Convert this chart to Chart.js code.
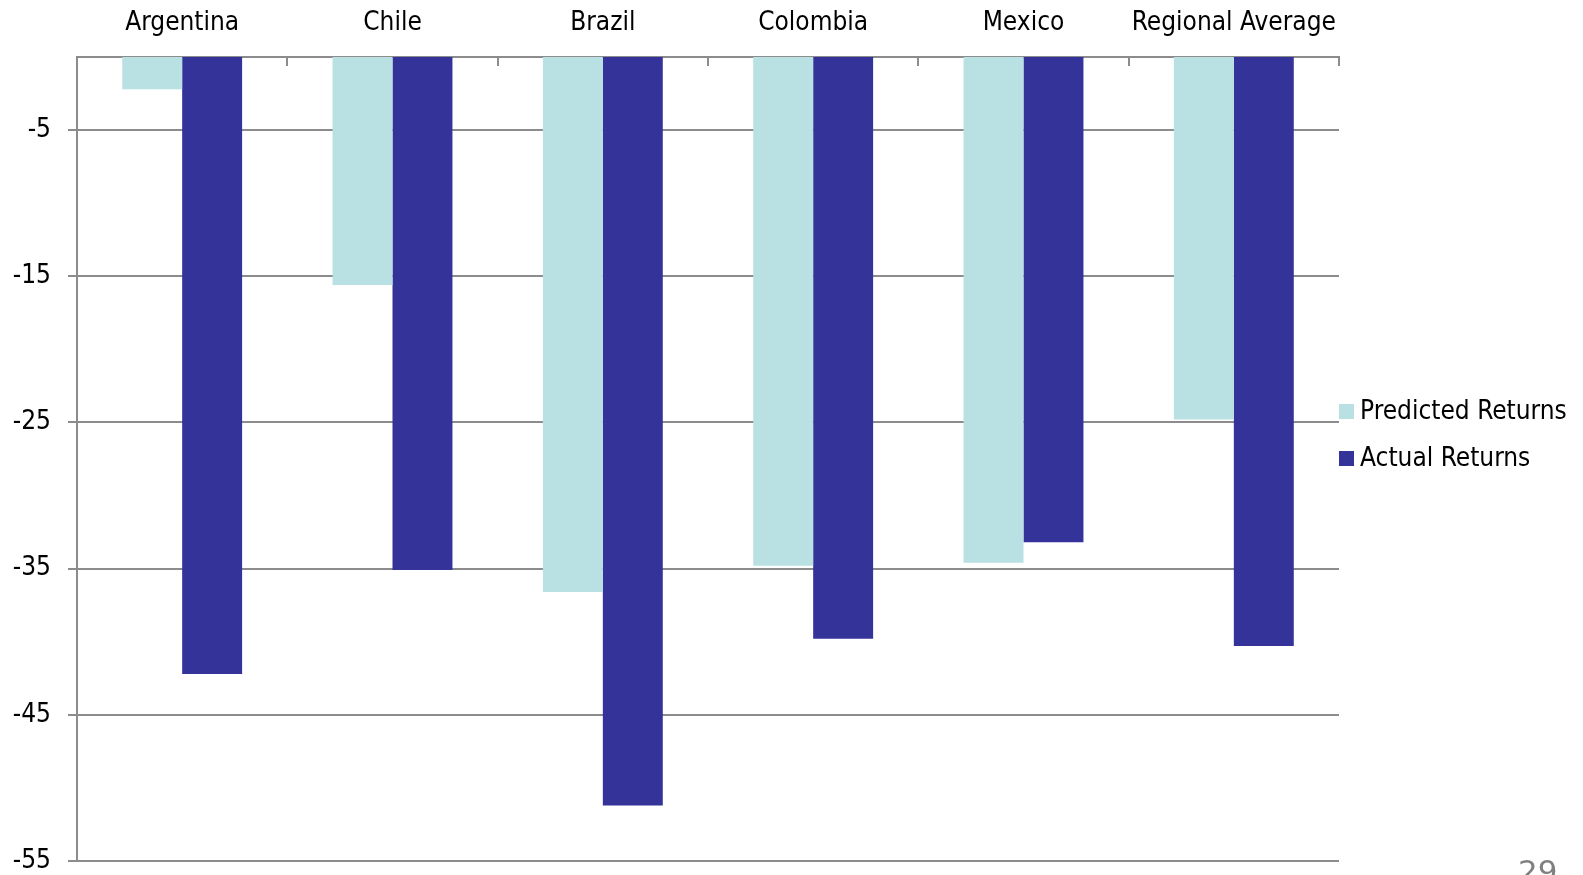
<!DOCTYPE html>
<html>
<head>
<meta charset="utf-8">
<script src="https://cdn.jsdelivr.net/npm/chart.js@4/dist/chart.umd.min.js"></script>
<style>
  html, body { margin: 0; padding: 0; background: #fff; overflow: hidden; }
  #wrap { position: relative; width: 1583px; height: 875px; }
  #pageNo {
    position: absolute; left: 1518px; top: 856px;
    font: 31px "DejaVu Sans", sans-serif; line-height: 1; color: #808080;
  }
</style>
</head>
<body>
<div id="wrap">
  <canvas id="returnsChart" width="1583" height="875"></canvas>
  <div id="pageNo">29</div>
</div>
<script>
const categories = ["Argentina", "Chile", "Brazil", "Colombia", "Mexico", "Regional Average"];
const predictedReturns = [-2.2, -15.6, -36.6, -34.8, -34.6, -24.8];
const actualReturns = [-42.2, -35.1, -51.2, -39.8, -33.2, -40.3];
const yTickValues = [-5, -15, -25, -35, -45, -55];

const axisGrey = "#8c8c8c";
const fontFamily = "'DejaVu Sans Condensed', 'DejaVu Sans', sans-serif";
const labelFont = { family: fontFamily, size: 26 };

// short tick marks pointing down from the top axis at each category boundary
const categoryTicks = {
  id: "categoryTicks",
  afterDraw(chart) {
    const { ctx, chartArea } = chart;
    const x = chart.scales.x;
    const step = x.getPixelForValue(1) - x.getPixelForValue(0);
    ctx.save();
    ctx.strokeStyle = axisGrey;
    ctx.lineWidth = 2;
    for (let i = 0; i <= categories.length; i++) {
      const px = Math.round(x.getPixelForValue(0) - step / 2 + i * step);
      ctx.beginPath();
      ctx.moveTo(px, chartArea.top);
      ctx.lineTo(px, chartArea.top + 9);
      ctx.stroke();
    }
    ctx.restore();
  },
};

// legend to the right of the plot, boxes flush with the plot edge
const sideLegend = {
  id: "sideLegend",
  afterDraw(chart) {
    const { ctx, chartArea } = chart;
    ctx.save();
    ctx.font = `26px ${fontFamily}`;
    ctx.textBaseline = "middle";
    chart.data.datasets.forEach((ds, i) => {
      const top = 404 + i * 47;
      ctx.fillStyle = ds.backgroundColor;
      ctx.fillRect(chartArea.right, top, 15, 15);
      ctx.fillStyle = "#000";
      ctx.fillText(ds.label, chartArea.right + 21, top + 8);
    });
    ctx.restore();
  },
};

new Chart(document.getElementById("returnsChart"), {
  type: "bar",
  data: {
    labels: categories,
    datasets: [
      {
        label: "Predicted Returns",
        data: predictedReturns,
        backgroundColor: "#b9e0e3",
        categoryPercentage: 0.57,
        barPercentage: 1,
      },
      {
        label: "Actual Returns",
        data: actualReturns,
        backgroundColor: "#333399",
        categoryPercentage: 0.57,
        barPercentage: 1,
      },
    ],
  },
  options: {
    responsive: false,
    animation: false,
    layout: { padding: { left: 0, top: 0, right: 244, bottom: 14 } },
    plugins: {
      legend: { display: false },
      tooltip: { enabled: false },
    },
    scales: {
      x: {
        position: "top",
        grid: { display: false, drawTicks: false },
        border: { display: true, color: axisGrey, width: 2 },
        ticks: { color: "#000", font: labelFont, padding: 18, maxRotation: 0 },
        afterFit: (scale) => { scale.height = 57; },
      },
      y: {
        min: -55,
        max: 0,
        afterBuildTicks: (scale) => {
          scale.ticks = yTickValues.map((v) => ({ value: v }));
        },
        afterFit: (scale) => {
          scale.width = 77;
          // let the bottom label run past the plot edge
          scale.paddingTop = 0;
          scale.paddingBottom = 0;
        },
        grid: { color: axisGrey, lineWidth: 2, tickLength: 9, drawTicks: true },
        border: { display: true, color: axisGrey, width: 2 },
        ticks: { color: "#000", font: labelFont, padding: 17 },
      },
    },
  },
  plugins: [categoryTicks, sideLegend],
});
</script>
</body>
</html>
